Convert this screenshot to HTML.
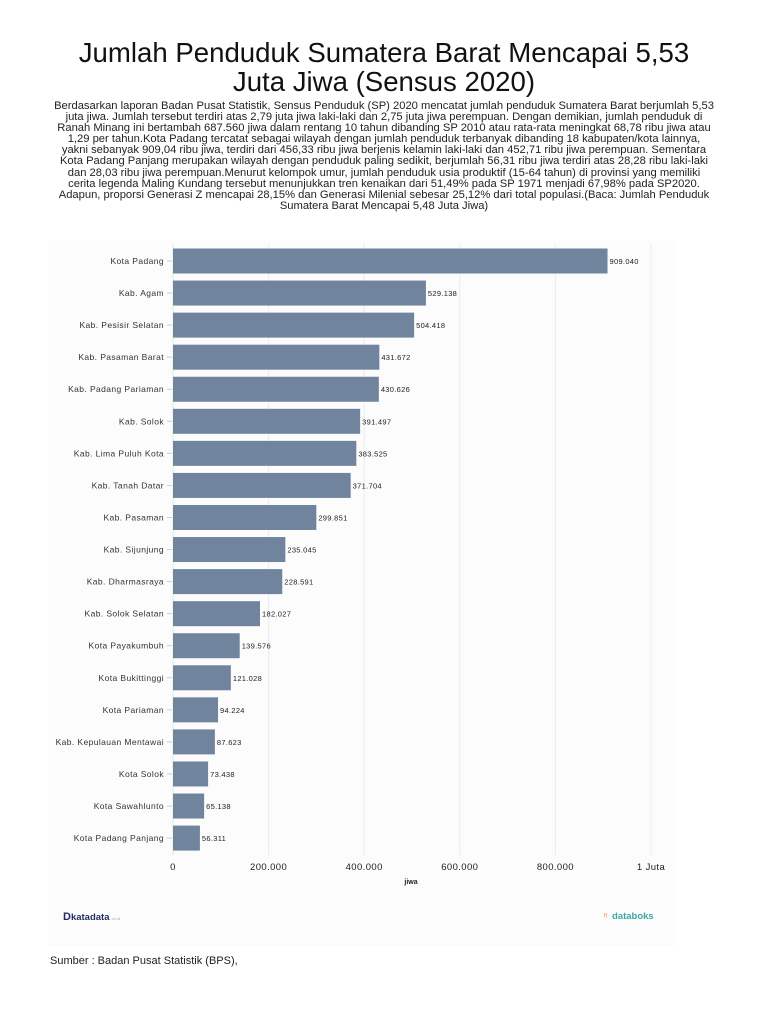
<!DOCTYPE html>
<html><head><meta charset="utf-8"><style>
html,body{margin:0;padding:0;background:#fff;width:768px;height:1024px;overflow:hidden;font-family:"Liberation Sans",sans-serif;}
#t{position:absolute;left:0;top:38px;width:768px;text-align:center;font-size:27.6px;line-height:29px;color:#111;}
#p{position:absolute;left:0px;top:101px;width:768px;text-align:center;font-size:11.2px;line-height:11.1px;color:#222;}
#s{position:absolute;left:50px;top:955px;font-size:11px;color:#222;}
svg{position:absolute;left:0;top:0;}
</style></head><body>
<div id="t">Jumlah Penduduk Sumatera Barat Mencapai 5,53<br>Juta Jiwa (Sensus 2020)</div>
<div id="p">Berdasarkan laporan Badan Pusat Statistik, Sensus Penduduk (SP) 2020 mencatat jumlah penduduk Sumatera Barat berjumlah 5,53<br>juta jiwa. Jumlah tersebut terdiri atas 2,79 juta jiwa laki-laki dan 2,75 juta jiwa perempuan. Dengan demikian, jumlah penduduk di<br>Ranah Minang ini bertambah 687.560 jiwa dalam rentang 10 tahun dibanding SP 2010 atau rata-rata meningkat 68,78 ribu jiwa atau<br>1,29 per tahun.Kota Padang tercatat sebagai wilayah dengan jumlah penduduk terbanyak dibanding 18 kabupaten/kota lainnya,<br>yakni sebanyak 909,04 ribu jiwa, terdiri dari 456,33 ribu jiwa berjenis kelamin laki-laki dan 452,71 ribu jiwa perempuan. Sementara<br>Kota Padang Panjang merupakan wilayah dengan penduduk paling sedikit, berjumlah 56,31 ribu jiwa terdiri atas 28,28 ribu laki-laki<br>dan 28,03 ribu jiwa perempuan.Menurut kelompok umur, jumlah penduduk usia produktif (15-64 tahun) di provinsi yang memiliki<br>cerita legenda Maling Kundang tersebut menunjukkan tren kenaikan dari 51,49% pada SP 1971 menjadi 67,98% pada SP2020.<br>Adapun, proporsi Generasi Z mencapai 28,15% dan Generasi Milenial sebesar 25,12% dari total populasi.(Baca: Jumlah Penduduk<br>Sumatera Barat Mencapai 5,48 Juta Jiwa)</div>
<svg width="768" height="1024" font-family="Liberation Sans, sans-serif">
<rect x="48" y="240" width="628" height="706" fill="#fcfcfc"/>
<g stroke="#ececec" stroke-width="1">
<line x1="268.6" y1="244" x2="268.6" y2="855"/><line x1="364.2" y1="244" x2="364.2" y2="855"/>
<line x1="459.8" y1="244" x2="459.8" y2="855"/><line x1="555.4" y1="244" x2="555.4" y2="855"/>
<line x1="651" y1="244" x2="651" y2="855"/>
</g>
<line x1="173" y1="244" x2="173" y2="855" stroke="#e4e4e4"/>
<g id="bars" fill="#71849e"></g>
<g font-size="9.5" fill="#222" text-anchor="middle" letter-spacing="0.4">
<text x="173" y="870">0</text><text x="268.6" y="870">200.000</text><text x="364.2" y="870">400.000</text>
<text x="459.8" y="870">600.000</text><text x="555.4" y="870">800.000</text><text x="651" y="870">1 Juta</text>
<text x="411" y="884" font-size="7" font-weight="bold" letter-spacing="0">jiwa</text>
</g>
<text x="63" y="920" font-size="11" font-weight="bold" fill="#1f2d5c">D<tspan font-size="9.5">katadata</tspan><tspan font-size="4" fill="#aaa" font-weight="normal"> .co.id</tspan></text>
<text x="604" y="919" font-size="9.5" fill="#e9673c">ᵎᵎ</text>
<text x="612" y="919" font-size="9.5" fill="#3aa8a8" font-weight="bold">databoks</text>
</svg>
<div id="s">Sumber : Badan Pusat Statistik (BPS),</div>
<script>
var d=[["Kota Padang",909040],["Kab. Agam",529138],["Kab. Pesisir Selatan",504418],["Kab. Pasaman Barat",431672],["Kab. Padang Pariaman",430626],["Kab. Solok",391497],["Kab. Lima Puluh Kota",383525],["Kab. Tanah Datar",371704],["Kab. Pasaman",299851],["Kab. Sijunjung",235045],["Kab. Dharmasraya",228591],["Kab. Solok Selatan",182027],["Kota Payakumbuh",139576],["Kota Bukittinggi",121028],["Kota Pariaman",94224],["Kab. Kepulauan Mentawai",87623],["Kota Solok",73438],["Kota Sawahlunto",65138],["Kota Padang Panjang",56311]];
var g=document.getElementById("bars"),ns="http://www.w3.org/2000/svg",s=document.querySelector("svg");
function fmt(v){return String(v).replace(/\B(?=(\d{3})+(?!\d))/g,".");}
d.forEach(function(e,i){var cy=261+32.06*i,w=e[1]*0.000478;
var r=document.createElementNS(ns,"rect");r.setAttribute("x",173);r.setAttribute("y",cy-12.5);r.setAttribute("width",w);r.setAttribute("height",25);g.appendChild(r);
var t=document.createElementNS(ns,"text");t.setAttribute("x",164);t.setAttribute("y",cy+3);t.setAttribute("font-size","8.5");t.setAttribute("letter-spacing","0.4");t.setAttribute("fill","#333");t.setAttribute("text-anchor","end");t.textContent=e[0];s.appendChild(t);
var k=document.createElementNS(ns,"line");k.setAttribute("x1",167);k.setAttribute("x2",172);k.setAttribute("y1",cy);k.setAttribute("y2",cy);k.setAttribute("stroke","#ccc");s.appendChild(k);
var v=document.createElementNS(ns,"text");v.setAttribute("x",173+w+2);v.setAttribute("y",cy+3);v.setAttribute("font-size","7.5");v.setAttribute("letter-spacing","0.3");v.setAttribute("fill","#222");v.textContent=fmt(e[1]);s.appendChild(v);});
</script>
</body></html>
